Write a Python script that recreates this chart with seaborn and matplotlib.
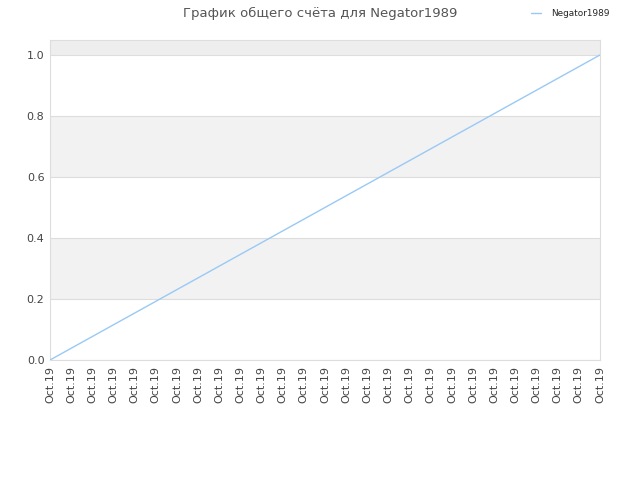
import matplotlib
matplotlib.use("Agg")
import matplotlib.pyplot as plt
import seaborn as sns
import pandas as pd

title = "График общего счёта для Negator1989"
series_name = "Negator1989"
x_labels = ["Oct.19"] * 27
scores = [0.0, 0.0385, 0.0769, 0.1154, 0.1538, 0.1923, 0.2308, 0.2692, 0.3077,
          0.3462, 0.3846, 0.4231, 0.4615, 0.5, 0.5385, 0.5769, 0.6154, 0.6538,
          0.6923, 0.7308, 0.7692, 0.8077, 0.8462, 0.8846, 0.9231, 0.9615, 1.0]
y_ticks = [0.0, 0.2, 0.4, 0.6, 0.8, 1.0]

df = pd.DataFrame({"idx": list(range(len(scores))), "score": scores, "player": series_name})

sns.set_style("white")
plt.rcParams['font.family'] = ['DejaVu Sans']

fig = plt.figure(figsize=(6.4, 4.8), dpi=100)
ax = fig.add_axes([50/640, 120/480, 550/640, 320/480])

ymax = 1.049
# background bands
ax.axhspan(1.0, ymax, color="#eeeeee", zorder=0, lw=0)
ax.axhspan(0.6, 0.8, color="#f2f2f2", zorder=0, lw=0)
ax.axhspan(0.2, 0.4, color="#f2f2f2", zorder=0, lw=0)
for t in y_ticks:
    ax.axhline(t, color="#dddddd", lw=0.8, zorder=1)

sns.lineplot(data=df, x="idx", y="score", ax=ax, color="#99c9f5", lw=1.0,
             legend=False, zorder=3)

ax.set_xlim(0, len(scores) - 1)
ax.set_ylim(0, ymax)
ax.set_xticks(range(len(x_labels)))
ax.set_xticklabels(x_labels, rotation=90, fontsize=8, color="#444444")
ax.set_yticks(y_ticks)
ax.set_yticklabels([f"{t:.1f}" for t in y_ticks], fontsize=8, color="#444444")
ax.tick_params(axis="both", length=0, pad=4)
ax.set_xlabel("")
ax.set_ylabel("")
for s in ax.spines.values():
    s.set_color("#dddddd")
    s.set_linewidth(0.8)

fig.text(0.5, 1 - 13/480, title, ha="center", va="center", fontsize=9.5, color="#555555")
fig.legend(handles=[plt.Line2D([0], [0], color="#99c9f5", lw=1.0)], labels=[series_name],
           loc="center right", bbox_to_anchor=(610/640, 1 - 14/480), frameon=False,
           fontsize=6.4, handlelength=1.1, handletextpad=1.2,
           borderaxespad=0, borderpad=0)

fig.savefig("out.png", dpi=100)
